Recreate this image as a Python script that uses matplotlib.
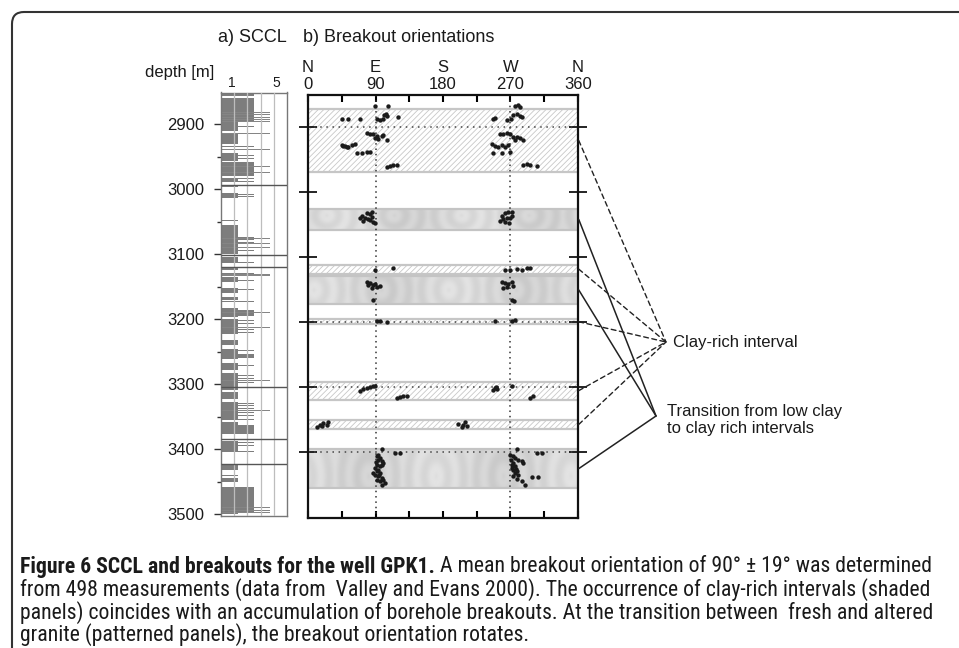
import numpy as np
import matplotlib
matplotlib.use('Agg')
import matplotlib.pyplot as plt
from matplotlib import font_manager
from matplotlib.patches import FancyBboxPatch, ConnectionPatch
from matplotlib.transforms import IdentityTransform

plt.rcParams['font.family'] = ['Liberation Sans', 'DejaVu Sans']
plt.rcParams['hatch.linewidth'] = 0.6

# ---------------- data ----------------
depth_ticks = [2900, 3000, 3100, 3200, 3300, 3400, 3500]
depth_minor = [2950, 3050, 3150, 3250, 3350, 3450]
az_ticks = [0, 90, 180, 270, 360]
az_labels = ['N\n0', 'E\n90', 'S\n180', 'W\n270', 'N\n360']
az_minor = [45, 135, 225, 315]
sccl_tick_vals = [1, 5]

# SCCL levels (bar length)
SCCL_SHORT, SCCL_MED, SCCL_LONG, SCCL_FULL = 1.5, 3.0, 4.5, 6.0
short_top = [2897, 2915, 2944, 2982, 2995, 3006, 3046.5, 3055, 3104, 3121, 3135, 3152, 3166,
             3183, 3199, 3232, 3245, 3268, 3283, 3312, 3327, 3358, 3388, 3425, 3439.5, 3445, 3458]
short_base = [2910, 2930, 2957, 2989, 2997, 3013, 3048, 3099, 3114, 3124, 3142, 3160, 3171,
              3197, 3222, 3240, 3261, 3278, 3309, 3322, 3355, 3376, 3405, 3432, 3441, 3450, 3499]
med_top = [2852, 2860, 2902.5, 2934, 2947, 2952, 2958, 2983, 2986.5, 3007, 3011, 3073, 3077, 3081,
           3085, 3094, 3106.5, 3111.5, 3128.5, 3139, 3153.5, 3172.5, 3186, 3201.5, 3206.5, 3211.5,
           3215.5, 3219.5, 3247, 3253, 3270, 3286, 3290, 3296, 3302, 3305, 3329, 3332, 3337, 3343,
           3348, 3353, 3363, 3389, 3394, 3399, 3403, 3458]
med_base = [2857, 2897, 2904, 2935.5, 2948.5, 2953.5, 2979, 2984.5, 2988, 3008.5, 3012.5, 3074.4,
            3078.4, 3082.4, 3086.4, 3095.4, 3108, 3113, 3130, 3140.5, 3155, 3174, 3195, 3203,
            3208, 3213, 3217, 3221, 3248.5, 3259, 3271.5, 3287.4, 3291.4, 3297.4, 3303.4, 3306.4,
            3330.4, 3333.4, 3338.4, 3344.4, 3349.4, 3354.4, 3376, 3390.4, 3395.4, 3400.4, 3404.4, 3496]
long_depth = [2851.5, 2878, 2881.5, 2885, 2889, 2892.5, 2895, 2914, 2938.5, 2941, 2964.5, 2973.5,
              3075, 3083, 3090, 3130.5, 3132.5, 3190, 3212, 3294.5, 3340.5, 3475, 3490, 3494, 3497]
full_depth = [2993.5, 3100.5, 3119.5, 3303.5, 3384.5, 3422.5]

# interval bands
hatched_top = [2872, 3112, 3196, 3292, 3351]
hatched_base = [2970, 3126, 3204, 3320, 3365]
shaded_top = [3027, 3130, 3396]
shaded_base = [3058, 3172, 3456]
dotted_depths = [2900, 3200, 3300, 3400]
dotted_az = [90, 270]

# breakout measurements
bo_depth = [2868, 2868, 2881.8, 2880.7, 2883.3, 2884.3, 2888, 2888, 2888.4, 2888.4, 2889.5, 2888,
            2888, 2887, 2889.5, 2888.4, 2881.8, 2880.7, 2882.8, 2884.3, 2868, 2869, 2866.4,
            2910, 2911, 2911.5, 2913.6, 2913.6, 2912.5, 2917.7, 2919.2, 2920.2,
            2928, 2929.5, 2930.5, 2928, 2926.9, 2931.5, 2929, 2939.7, 2939.7, 2939.2, 2938.2,
            2961.3, 2960.2, 2958.7, 2958.7,
            2911, 2911.5, 2910, 2911, 2915.1, 2916.1, 2917.7, 2920.2, 2920.2,
            2926.9, 2929, 2930.5, 2928, 2930.5, 2928, 2939.7, 2939.7, 2938.2,
            2958.7, 2957.7, 2958.7, 2959.7,
            3039.7, 3036.6, 3040.7, 3033, 3034.5, 3038.1, 3043.3, 3045.8, 3041.7, 3044.8, 3048.4, 3030.4,
            3036.6, 3033, 3031.5, 3030.4, 3041.7, 3040.7, 3039.7, 3036.6, 3045.8, 3048.4, 3044.8,
            3120.2, 3117.6, 3120.2, 3120.2, 3118.6, 3120.2, 3117.6, 3116.6,
            3139.2, 3140.7, 3143.3, 3145.8, 3147.4, 3144.3, 3142.2, 3143.3, 3166.3,
            3139.2, 3140.7, 3142.2, 3139.2, 3144.3, 3145.8, 3147.4, 3166.3, 3167.9,
            3198.6, 3198.1, 3199.7, 3198.6, 3198.6, 3197.1,
            3305.8, 3303.7, 3302.2, 3300.7, 3299.6, 3298.6, 3317.6, 3316, 3315, 3314,
            3304.8, 3302.2, 3303.7, 3300.7, 3299.6, 3317.6, 3315,
            3362.2, 3358.6, 3356, 3358.6, 3355, 3360.2, 3357.1, 3361.2, 3355, 3360.2, 3358.6,
            3396, 3401.2, 3402.2, 3396, 3401.2, 3401.2,
            3407.2, 3409.8, 3412.4, 3414.9, 3417.5, 3420, 3422.6, 3425.2, 3427.8, 3430.3, 3432.9,
            3435.4, 3438, 3440.6, 3443.1, 3445.7, 3448.3, 3444.2, 3450.8, 3416.5, 3404.7, 3420,
            3432.9, 3435.4,
            3404.7, 3407.2, 3409.8, 3412.4, 3414.9, 3417.5, 3420, 3422.6, 3425.2, 3427.8, 3430.3,
            3432.9, 3435.4, 3438, 3442.1, 3445.7, 3450.8, 3417.5, 3439, 3439, 3412.4, 3426.7]
bo_azimuth = [89.3, 106, 101.8, 103.6, 104.9, 120.4, 44.9, 53.8, 69.3, 91.5, 96, 100.4,
              247, 250, 264.9, 270.7, 273.8, 278.2, 282.7, 285.8, 276, 282.7, 279.5,
              78.2, 82.7, 87.1, 91.5, 98.2, 100.4, 89.3, 93.8, 104.9,
              44.9, 49.3, 53.8, 58.2, 62.7, 51.6, 47.1, 64.9, 71.6, 78.2, 82.7,
              104.9, 109.3, 113.8, 118.2,
              256, 260.4, 264.9, 269.3, 273.8, 278.2, 282.7, 287.1, 276,
              244.9, 249.3, 253.8, 258.2, 262.7, 267.1, 247.1, 258.2, 269.3,
              287.1, 291.5, 296, 304.9,
              69.3, 71.6, 76, 78.2, 82.7, 84.9, 82.7, 87.1, 80.4, 73.8, 89.3, 84.9,
              258.2, 262.7, 267.1, 271.6, 260.4, 264.9, 269.3, 271.6, 262.7, 268, 256,
              89.3, 113.8, 262.7, 269.3, 278.2, 284.9, 291.5, 296,
              78.2, 82.7, 87.1, 91.5, 84.9, 96, 89.3, 80.4, 87.1,
              258.2, 262.7, 267.1, 271.6, 273.8, 264.9, 260.4, 271.6, 275,
              91.5, 96, 104.9, 249.3, 271.6, 276,
              69.3, 73.8, 78.2, 82.7, 87.1, 89.3, 118.2, 122.7, 127.1, 131.5,
              247.1, 249.3, 251.6, 250.2, 271.6, 296, 300.4,
              11.6, 16, 20.4, 24.9, 27.1, 18.2, 200.4, 204.9, 209.3, 211.5, 207.1,
              98.2, 116, 122.7, 278.2, 304.9, 311.5,
              91.5, 96, 93.8, 98.2, 100.4, 91.5, 96, 89.3, 93.8, 91.5, 96,
              89.3, 93.8, 98.2, 91.5, 96, 102.7, 100.4, 98.2, 90.4, 93.8, 99.1,
              87.1, 95.1,
              269.3, 273.8, 276, 280.4, 284.9, 273.8, 271.6, 276, 271.6, 273.8, 278.2,
              276, 280.4, 273.8, 278.2, 284.9, 289.3, 287.1, 298.2, 307.1, 270.5, 277.1]

# ---------------- figure ----------------
W, H = 959, 648
fig = plt.figure(figsize=(W / 100, H / 100), dpi=100)
fig.patch.set_facecolor('white')


def fbox(x0, y0, x1, y1):
    return [x0 / W, 1 - y1 / H, (x1 - x0) / W, (y1 - y0) / H]


DEPTH_LIM = (3502, 2851)
TXT = '#1a1a1a'

# ---- SCCL panel ----
ax_s = fig.add_axes(fbox(221, 92.5, 287, 515.5))
BAR = '#7d7d7d'
ax_s.barh(short_top, [SCCL_SHORT] * len(short_top), height=np.subtract(short_base, short_top),
          align='edge', color=BAR, lw=0, zorder=2)
ax_s.barh(med_top, [SCCL_MED] * len(med_top), height=np.subtract(med_base, med_top),
          align='edge', color=BAR, lw=0, zorder=2)
ax_s.barh(long_depth, [SCCL_LONG] * len(long_depth), height=1.4, align='center',
          color='#858585', lw=0, zorder=2)
ax_s.hlines(full_depth, 0, SCCL_FULL, color='#555555', lw=1.0, zorder=4)
ax_s.vlines([1.2, 2.4, 3.6, 4.8], DEPTH_LIM[1], DEPTH_LIM[0], color='#bdbdbd', lw=0.9, zorder=3)
ax_s.set_xlim(0, 6)
ax_s.set_ylim(DEPTH_LIM)
for sp in ax_s.spines.values():
    sp.set_color('#777777')
    sp.set_linewidth(1.0)
ax_s.set_yticks(depth_ticks)
ax_s.set_yticks(depth_minor, minor=True)
ax_s.set_yticklabels([str(d) for d in depth_ticks])
ax_s.tick_params(axis='y', which='major', direction='out', length=5, width=1, pad=7,
                 labelsize=12, color='#333333', labelcolor=TXT)
ax_s.tick_params(axis='y', which='minor', direction='out', length=3, width=1, color='#333333')
ax_s.xaxis.tick_top()
ax_s.set_xticks(sccl_tick_vals)
ax_s.set_xticklabels([str(v) for v in sccl_tick_vals])
ax_s.tick_params(axis='x', length=0, pad=1.5, labelsize=10, labelcolor=TXT)

# ---- Breakout panel ----
ax_b = fig.add_axes(fbox(308, 95, 578, 518))
for t, b in zip(hatched_top, hatched_base):
    ax_b.axhspan(t, b, facecolor='white', edgecolor='#c8c8c8', hatch='//////', lw=0, zorder=1)
    ax_b.hlines([t, b], 0, 360, color='#c6c6c6', lw=1.6, zorder=1.5)


def wood(ax, top, base, k):
    xs = np.linspace(0, 360, 721)
    ys = np.linspace(0, 1, 40)
    X, Y = np.meshgrid(xs, ys)
    r = np.hypot(((X + 20 + 17 * k) % 90) - 45, (Y - 0.3 - 0.2 * k) * 30)
    tex = 0.84 + 0.025 * np.sin(r * 0.3) + 0.025 * np.sin(X / 29.0 + k)
    ax.imshow(tex, extent=(0, 360, base, top), aspect='auto', cmap='gray', vmin=0, vmax=1,
              zorder=1, interpolation='bilinear')


for k, (t, b) in enumerate(zip(shaded_top, shaded_base)):
    wood(ax_b, t, b, k)
    ax_b.hlines([t, b], 0, 360, color='#c4c4c4', lw=1.6, zorder=1.5)

ax_b.vlines(dotted_az, DEPTH_LIM[1], DEPTH_LIM[0], color='#333333', lw=1.1,
            linestyles=(0, (1, 2.5)), zorder=2)
ax_b.hlines(dotted_depths, 0, 360, color='#444444', lw=1.1, linestyles=(0, (1, 3)), zorder=2)
ax_b.scatter(bo_azimuth, bo_depth, s=10, c='#1a1a1a', linewidths=0, zorder=3)

ax_b.set_xlim(0, 360)
ax_b.set_ylim(DEPTH_LIM)
for sp in ax_b.spines.values():
    sp.set_color('#111111')
    sp.set_linewidth(1.6)
ax_b.set_xticks(az_ticks)
ax_b.set_xticklabels(az_labels)
ax_b.set_xticks(az_minor, minor=True)
ax_b.tick_params(axis='x', which='both', top=True, bottom=True, labeltop=True, labelbottom=False,
                 direction='in', length=5, width=1.5, labelsize=12, pad=2, labelcolor=TXT)
ax_b.set_yticks(depth_ticks[:-1])
ax_b.tick_params(axis='y', left=True, right=True, labelleft=False, direction='inout',
                 length=13, width=1.2)

# ---- connector lines ----
CLAY_PT = (666, H - 342)
TRANS_PT = (656, H - 416)
for t, b in zip(hatched_top, hatched_base):
    con = ConnectionPatch(xyA=(361, (t + b) / 2), coordsA=ax_b.transData, xyB=CLAY_PT,
                          coordsB='figure pixels', ls=(0, (3.5, 2.5)), lw=1.0, color='#222222')
    fig.add_artist(con)
for t, b in zip(shaded_top, shaded_base):
    con = ConnectionPatch(xyA=(361, (t + b) / 2), coordsA=ax_b.transData, xyB=TRANS_PT,
                          coordsB='figure pixels', lw=1.1, color='#222222')
    fig.add_artist(con)

# ---- texts ----
fig.text(218 / W, 1 - 38 / H, 'a) SCCL', fontsize=13, va='center', ha='left', color=TXT)
fig.text(303 / W, 1 - 38 / H, 'b) Breakout orientations', fontsize=13, va='center', ha='left', color=TXT)
fig.text(214 / W, 1 - 72 / H, 'depth [m]', fontsize=12, va='center', ha='right', color=TXT)
fig.text(673 / W, 1 - 342 / H, 'Clay-rich interval', fontsize=12, va='center', ha='left', color=TXT)
fig.text(667 / W, 1 - 420 / H, 'Transition from low clay\nto clay rich intervals', fontsize=12,
         va='center', ha='left', linespacing=1.15, color=TXT)

# ---- caption ----
names = {f.name for f in font_manager.fontManager.ttflist}
cap_family = next((n for n in ['Liberation Sans Narrow', 'Roboto Condensed', 'Open Sans Condensed',
                               'Roboto', 'Liberation Sans'] if n in names), 'DejaVu Sans')
cap_lines = [
    [('Figure 6 SCCL and breakouts for the well GPK1.', 'bold'),
     (' A mean breakout orientation of 90\u00b0 \u00b1 19\u00b0 was determined', 'normal')],
    [('from 498 measurements (data from  Valley and Evans 2000). The occurrence of clay-rich intervals (shaded', 'normal')],
    [('panels) coincides with an accumulation of borehole breakouts. At the transition between  fresh and altered', 'normal')],
    [('granite (patterned panels), the breakout orientation rotates.', 'normal')],
]
cap_y = [567, 590, 612.5, 634.5]
renderer = fig.canvas.get_renderer()


def seg_w(s, size, weight):
    t = fig.text(0, 0, s, fontsize=size, fontweight=weight, family=[cap_family, 'DejaVu Sans'])
    w = t.get_window_extent(renderer).width
    t.remove()
    return w


size = 12.0
w1 = sum(seg_w(s, size, wt) for s, wt in cap_lines[0])
size = size * 915.0 / w1
for line, yy in zip(cap_lines, cap_y):
    x = 20.0
    for s, wt in line:
        fig.text(x / W, 1 - yy / H, s, fontsize=size, fontweight=wt, va='center', ha='left',
                 family=[cap_family, 'DejaVu Sans'], color=TXT)
        x += seg_w(s, size, wt)

# ---- border ----
border = FancyBboxPatch((12, -60), 1000, H - 12 + 60, boxstyle='round,pad=0,rounding_size=12',
                        transform=IdentityTransform(), fc='none', ec='#333333', lw=1.5)
fig.add_artist(border)

fig.savefig('out.png', dpi=100, facecolor='white')
